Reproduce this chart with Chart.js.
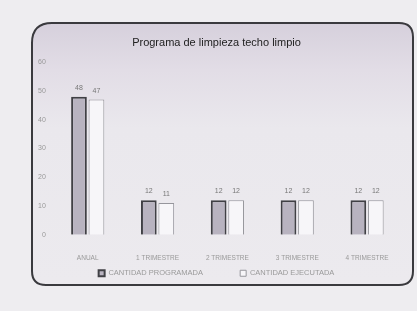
<!DOCTYPE html>
<html><head><meta charset="utf-8">
<script src="https://cdn.jsdelivr.net/npm/chart.js@4/dist/chart.umd.min.js"></script>
<style>html,body{margin:0;padding:0;background:#ebeaee;}#wrap{width:417px;height:311px;}</style>
</head><body><div id="wrap"><canvas id="c" width="417" height="311"></canvas></div>
<script>
const categories = ["ANUAL", "1 TRIMESTRE", "2 TRIMESTRE", "3 TRIMESTRE", "4 TRIMESTRE"];
const programada = [48, 12, 12, 12, 12];
const ejecutada = [47, 11, 12, 12, 12];
const yTicks = [0, 10, 20, 30, 40, 50, 60];
const seriesNames = ["CANTIDAD PROGRAMADA", "CANTIDAD EJECUTADA"];
const chartTitle = "Programa de limpieza techo limpio";

const frame = {
  id: 'frame',
  beforeDraw(chart) {
    const ctx = chart.ctx;
    ctx.save();
    ctx.fillStyle = '#eeedf0';
    ctx.fillRect(0, 0, chart.width, chart.height);
    const x = 32, y = 23, w = 381, h = 262, r = 14;
    const g = ctx.createLinearGradient(0, y, 0, y + h);
    g.addColorStop(0, '#d6d0dc');
    g.addColorStop(0.18, '#e2dde6');
    g.addColorStop(0.4, '#eae8ed');
    g.addColorStop(1, '#eceaee');
    ctx.beginPath();
    ctx.moveTo(x + r + 6, y);
    ctx.lineTo(x + w - r, y); ctx.quadraticCurveTo(x + w, y, x + w, y + r);
    ctx.lineTo(x + w, y + h - r); ctx.quadraticCurveTo(x + w, y + h, x + w - r, y + h);
    ctx.lineTo(x + r, y + h); ctx.quadraticCurveTo(x, y + h, x, y + h - r);
    ctx.lineTo(x, y + r + 6); ctx.quadraticCurveTo(x, y, x + r + 6, y);
    ctx.closePath();
    ctx.fillStyle = g;
    ctx.fill();
    ctx.lineWidth = 2;
    ctx.strokeStyle = '#3a3a3e';
    ctx.stroke();
    ctx.restore();
  }
};
const labelsPlugin = {
  id: 'vals',
  afterDatasetsDraw(chart) {
    const ctx = chart.ctx;
    ctx.save();
    ctx.font = '7px "Liberation Sans", sans-serif';
    ctx.fillStyle = '#777';
    ctx.textAlign = 'center';
    ctx.textBaseline = 'middle';
    chart.data.datasets.forEach((ds, i) => {
      chart.getDatasetMeta(i).data.forEach((bar, j) => {
        ctx.fillText(String(ds.data[j]), bar.x, bar.y - 9);
      });
    });
    ctx.restore();
  }
};

new Chart(document.getElementById('c'), {
  type: 'bar',
  data: {
    labels: categories,
    datasets: [
      { label: seriesNames[0], data: programada, backgroundColor: '#b8b3c0', borderColor: '#404045', borderWidth: 2, borderSkipped: 'bottom' },
      { label: seriesNames[1], data: ejecutada, backgroundColor: '#f7f6f9', borderColor: '#96969c', borderWidth: 1, borderSkipped: 'bottom' }
    ]
  },
  options: {
    responsive: false,
    animation: false,
    devicePixelRatio: 1,
    layout: { padding: { left: 31, right: 15, top: 36, bottom: 24 } },
    datasets: { bar: { categoryPercentage: 0.5, barPercentage: 0.9 } },
    scales: {
      x: {
        grid: { display: false, drawTicks: false },
        border: { display: false },
        ticks: { color: '#999', font: { size: 6.5, family: 'Liberation Sans' }, maxRotation: 0, padding: 20 },
        afterFit(axis) { axis.height -= 21; }
      },
      y: {
        min: 0, max: 60,
        afterBuildTicks(axis) { axis.ticks = yTicks.map(v => ({ value: v })); },
        grid: { display: false, drawTicks: false },
        border: { display: false },
        ticks: { color: '#999', font: { size: 7, family: 'Liberation Sans' }, padding: 7 }
      }
    },
    plugins: {
      title: { display: true, text: chartTitle, color: '#222', font: { size: 11, family: 'Liberation Sans', weight: 'normal' }, padding: { top: 0, bottom: 13 } },
      legend: {
        position: 'bottom',
        labels: { color: '#9a9a9a', font: { size: 7.5, family: 'Liberation Sans' }, boxWidth: 6, boxHeight: 6, padding: 8,
          generateLabels(chart) {
            const items = Chart.defaults.plugins.legend.labels.generateLabels(chart);
            items.forEach((it, i) => { if (i === 0) it.text = it.text + '              '; });
            return items;
          }
        }
      },
      tooltip: { enabled: false }
    }
  },
  plugins: [frame, labelsPlugin]
});
</script></body></html>
